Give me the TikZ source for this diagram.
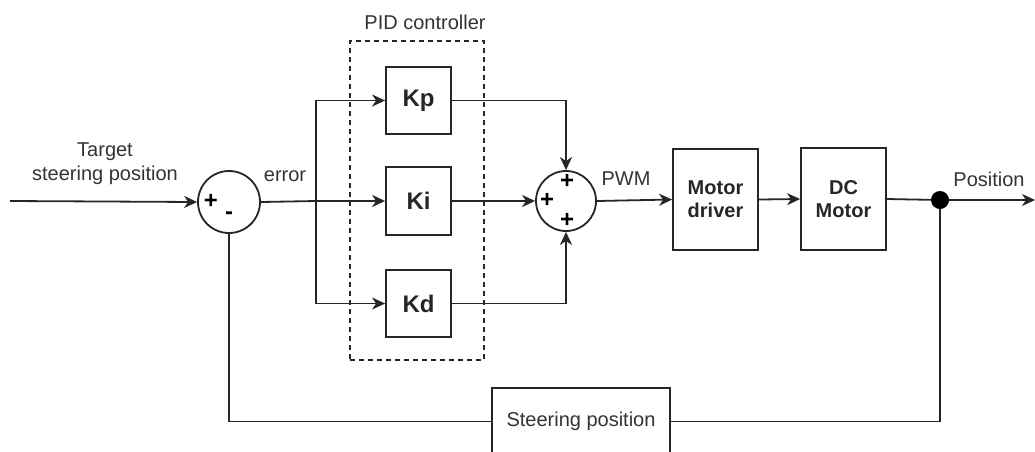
\documentclass[tikz,border=0pt]{standalone}
\usepackage{fontspec}
\setmainfont{Liberation Sans}
\usetikzlibrary{arrows.meta}
\definecolor{txt}{HTML}{333333}
\tikzset{
  ln/.style={line width=1.8pt, draw=black!85},
  arr/.style={ln, -{Stealth[length=13pt,width=12pt,inset=4pt]}},
  blk/.style={draw=black!85, line width=1.8pt, rectangle, inner sep=0pt, align=center, font=\fontsize{20}{23}\selectfont\bfseries, text=black!85},
  kblk/.style={blk, minimum width=65pt, font=\fontsize{24}{28}\selectfont\bfseries},
  sumc/.style={draw=black!85, line width=1.8pt, circle, inner sep=0pt},
  lbl/.style={font=\fontsize{20}{23}\selectfont, text=txt, inner sep=0pt, align=center},
  sgn/.style={font=\fontsize{24}{24}\selectfont\bfseries, text=black, inner sep=0pt},
}
\begin{document}
\begin{tikzpicture}[x=1pt,y=-1pt]
\useasboundingbox (0,0) rectangle (1035,451);
% nodes
\coordinate (in) at (10,201);
\node[sumc, minimum size=62pt] (s1) at (229,202) {};
\coordinate (b) at (316,201);
\node[kblk, minimum height=67pt] (kp) at (418.5,100.5) {Kp};
\node[kblk, minimum height=68pt] (ki) at (418.5,201) {Ki};
\node[kblk, minimum height=67pt] (kd) at (418.5,303.5) {Kd};
\node[draw=black!85, line width=1.4pt, dash pattern=on 5pt off 4pt, minimum width=134pt, minimum height=319pt, inner sep=0pt] (pid) at (417,200.5) {};
\node[lbl] (pidl) at (425,22) {PID controller};
\node[sumc, minimum size=60pt] (s2) at (566,201) {};
\node[blk, minimum width=85pt, minimum height=101pt] (md) at (715.5,199.5) {Motor\\driver};
\node[blk, minimum width=85pt, minimum height=102pt] (dc) at (843.5,199) {DC\\Motor};
\node[circle, fill=black, minimum size=18pt, inner sep=0pt] (dot) at (940,200) {};
\coordinate (out) at (1035,200);
\node[draw=black!85, line width=1.8pt, minimum width=178pt, minimum height=67pt, inner sep=0pt, lbl] (sp) at (581,421.5) {Steering position};
% labels
\node[lbl] (tl) at (105,164) {Target\\[1pt]steering position};
\node[lbl] (el) at (285,176) {error};
\node[lbl] (pwm) at (626,179) {PWM};
\node[lbl] (pos) at (989,179) {Position};
% signs
\node[sgn] (p1) at (211,201) {+};
\node[sgn] (m1) at (229,216) {-};
\node[sgn] (p2) at (567,181) {+};
\node[sgn] (p3) at (547,200) {+};
\node[sgn] (p4) at (567,220) {+};
% connectors
\draw[arr] (in) -- (s1.west);
\draw[ln] (s1.east) -- (b);
\draw[arr] (b) |- (kp.west);
\draw[arr] (b) -- (ki.west);
\draw[arr] (b) |- (kd.west);
\draw[arr] (kp.east) -| (s2.north);
\draw[arr] (ki.east) -- (s2.west);
\draw[arr] (kd.east) -| (s2.south);
\draw[arr] (s2.east) -- (md.west);
\draw[arr] (md.east) -- (dc.west);
\draw[ln] (dc.east) -- (dot);
\draw[arr] (dot) -- (out);
\draw[ln] (dot) |- (sp.east);
\draw[ln] (sp.west) -| (s1.south);
\end{tikzpicture}
\end{document}
